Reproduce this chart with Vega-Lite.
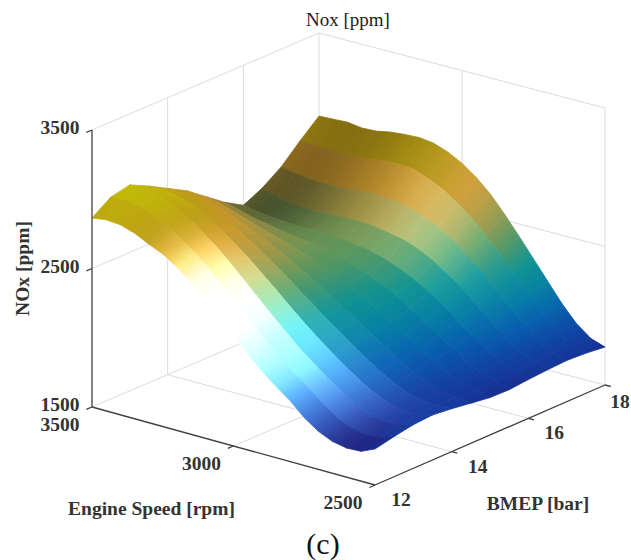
{"$schema":"https://vega.github.io/schema/vega-lite/v6.json","width":631,"height":560,"autosize":{"type":"none"},"padding":0,"background":"white","config":{"view":{"stroke":null},"text":{"font":"Liberation Serif"}},
"datasets":{
"surface":[
{"r":3500,"b":18,"n":2900},{"r":3500,"b":17.5,"n":2780},{"r":3500,"b":17,"n":2650},{"r":3500,"b":16.5,"n":2556},{"r":3500,"b":16,"n":2489},{"r":3500,"b":15.5,"n":2570},{"r":3500,"b":15,"n":2670},{"r":3500,"b":14.5,"n":2770},{"r":3500,"b":14,"n":2845},{"r":3500,"b":13.5,"n":2920},{"r":3500,"b":13,"n":2987},{"r":3500,"b":12.5,"n":2958},{"r":3500,"b":12,"n":2865},
{"r":3450,"b":18,"n":2905},{"r":3450,"b":17.5,"n":2775},{"r":3450,"b":17,"n":2630},{"r":3450,"b":16.5,"n":2520},{"r":3450,"b":16,"n":2470},{"r":3450,"b":15.5,"n":2545},{"r":3450,"b":15,"n":2650},{"r":3450,"b":14.5,"n":2755},{"r":3450,"b":14,"n":2840},{"r":3450,"b":13.5,"n":2925},{"r":3450,"b":13,"n":2985},{"r":3450,"b":12.5,"n":2965},{"r":3450,"b":12,"n":2880},
{"r":3400,"b":18,"n":2910},{"r":3400,"b":17.5,"n":2770},{"r":3400,"b":17,"n":2615},{"r":3400,"b":16.5,"n":2500},{"r":3400,"b":16,"n":2460},{"r":3400,"b":15.5,"n":2515},{"r":3400,"b":15,"n":2615},{"r":3400,"b":14.5,"n":2725},{"r":3400,"b":14,"n":2820},{"r":3400,"b":13.5,"n":2905},{"r":3400,"b":13,"n":2965},{"r":3400,"b":12.5,"n":2945},{"r":3400,"b":12,"n":2872},
{"r":3350,"b":18,"n":2895},{"r":3350,"b":17.5,"n":2765},{"r":3350,"b":17,"n":2610},{"r":3350,"b":16.5,"n":2490},{"r":3350,"b":16,"n":2450},{"r":3350,"b":15.5,"n":2495},{"r":3350,"b":15,"n":2580},{"r":3350,"b":14.5,"n":2685},{"r":3350,"b":14,"n":2785},{"r":3350,"b":13.5,"n":2870},{"r":3350,"b":13,"n":2925},{"r":3350,"b":12.5,"n":2910},{"r":3350,"b":12,"n":2840},
{"r":3300,"b":18,"n":2900},{"r":3300,"b":17.5,"n":2770},{"r":3300,"b":17,"n":2610},{"r":3300,"b":16.5,"n":2490},{"r":3300,"b":16,"n":2445},{"r":3300,"b":15.5,"n":2475},{"r":3300,"b":15,"n":2545},{"r":3300,"b":14.5,"n":2640},{"r":3300,"b":14,"n":2735},{"r":3300,"b":13.5,"n":2820},{"r":3300,"b":13,"n":2870},{"r":3300,"b":12.5,"n":2860},{"r":3300,"b":12,"n":2790},
{"r":3250,"b":18,"n":2920},{"r":3250,"b":17.5,"n":2785},{"r":3250,"b":17,"n":2620},{"r":3250,"b":16.5,"n":2495},{"r":3250,"b":16,"n":2445},{"r":3250,"b":15.5,"n":2460},{"r":3250,"b":15,"n":2515},{"r":3250,"b":14.5,"n":2595},{"r":3250,"b":14,"n":2680},{"r":3250,"b":13.5,"n":2755},{"r":3250,"b":13,"n":2800},{"r":3250,"b":12.5,"n":2790},{"r":3250,"b":12,"n":2745},
{"r":3200,"b":18,"n":2930},{"r":3200,"b":17.5,"n":2795},{"r":3200,"b":17,"n":2630},{"r":3200,"b":16.5,"n":2500},{"r":3200,"b":16,"n":2440},{"r":3200,"b":15.5,"n":2445},{"r":3200,"b":15,"n":2485},{"r":3200,"b":14.5,"n":2545},{"r":3200,"b":14,"n":2615},{"r":3200,"b":13.5,"n":2680},{"r":3200,"b":13,"n":2720},{"r":3200,"b":12.5,"n":2715},{"r":3200,"b":12,"n":2680},
{"r":3150,"b":18,"n":2935},{"r":3150,"b":17.5,"n":2800},{"r":3150,"b":17,"n":2635},{"r":3150,"b":16.5,"n":2500},{"r":3150,"b":16,"n":2435},{"r":3150,"b":15.5,"n":2425},{"r":3150,"b":15,"n":2445},{"r":3150,"b":14.5,"n":2490},{"r":3150,"b":14,"n":2545},{"r":3150,"b":13.5,"n":2600},{"r":3150,"b":13,"n":2630},{"r":3150,"b":12.5,"n":2625},{"r":3150,"b":12,"n":2595},
{"r":3100,"b":18,"n":2922},{"r":3100,"b":17.5,"n":2790},{"r":3100,"b":17,"n":2625},{"r":3100,"b":16.5,"n":2490},{"r":3100,"b":16,"n":2420},{"r":3100,"b":15.5,"n":2400},{"r":3100,"b":15,"n":2405},{"r":3100,"b":14.5,"n":2430},{"r":3100,"b":14,"n":2470},{"r":3100,"b":13.5,"n":2510},{"r":3100,"b":13,"n":2530},{"r":3100,"b":12.5,"n":2525},{"r":3100,"b":12,"n":2500},
{"r":3050,"b":18,"n":2885},{"r":3050,"b":17.5,"n":2750},{"r":3050,"b":17,"n":2600},{"r":3050,"b":16.5,"n":2470},{"r":3050,"b":16,"n":2400},{"r":3050,"b":15.5,"n":2365},{"r":3050,"b":15,"n":2355},{"r":3050,"b":14.5,"n":2365},{"r":3050,"b":14,"n":2390},{"r":3050,"b":13.5,"n":2420},{"r":3050,"b":13,"n":2430},{"r":3050,"b":12.5,"n":2425},{"r":3050,"b":12,"n":2400},
{"r":3000,"b":18,"n":2830},{"r":3000,"b":17.5,"n":2700},{"r":3000,"b":17,"n":2560},{"r":3000,"b":16.5,"n":2450},{"r":3000,"b":16,"n":2370},{"r":3000,"b":15.5,"n":2325},{"r":3000,"b":15,"n":2305},{"r":3000,"b":14.5,"n":2300},{"r":3000,"b":14,"n":2310},{"r":3000,"b":13.5,"n":2325},{"r":3000,"b":13,"n":2330},{"r":3000,"b":12.5,"n":2320},{"r":3000,"b":12,"n":2300},
{"r":2950,"b":18,"n":2755},{"r":2950,"b":17.5,"n":2630},{"r":2950,"b":17,"n":2510},{"r":2950,"b":16.5,"n":2410},{"r":2950,"b":16,"n":2330},{"r":2950,"b":15.5,"n":2280},{"r":2950,"b":15,"n":2250},{"r":2950,"b":14.5,"n":2235},{"r":2950,"b":14,"n":2230},{"r":2950,"b":13.5,"n":2235},{"r":2950,"b":13,"n":2235},{"r":2950,"b":12.5,"n":2220},{"r":2950,"b":12,"n":2195},
{"r":2900,"b":18,"n":2660},{"r":2900,"b":17.5,"n":2550},{"r":2900,"b":17,"n":2445},{"r":2900,"b":16.5,"n":2355},{"r":2900,"b":16,"n":2280},{"r":2900,"b":15.5,"n":2230},{"r":2900,"b":15,"n":2190},{"r":2900,"b":14.5,"n":2165},{"r":2900,"b":14,"n":2155},{"r":2900,"b":13.5,"n":2150},{"r":2900,"b":13,"n":2140},{"r":2900,"b":12.5,"n":2125},{"r":2900,"b":12,"n":2100},
{"r":2850,"b":18,"n":2540},{"r":2850,"b":17.5,"n":2450},{"r":2850,"b":17,"n":2365},{"r":2850,"b":16.5,"n":2285},{"r":2850,"b":16,"n":2220},{"r":2850,"b":15.5,"n":2165},{"r":2850,"b":15,"n":2125},{"r":2850,"b":14.5,"n":2095},{"r":2850,"b":14,"n":2080},{"r":2850,"b":13.5,"n":2070},{"r":2850,"b":13,"n":2060},{"r":2850,"b":12.5,"n":2040},{"r":2850,"b":12,"n":2015},
{"r":2800,"b":18,"n":2410},{"r":2800,"b":17.5,"n":2340},{"r":2800,"b":17,"n":2275},{"r":2800,"b":16.5,"n":2210},{"r":2800,"b":16,"n":2150},{"r":2800,"b":15.5,"n":2095},{"r":2800,"b":15,"n":2055},{"r":2800,"b":14.5,"n":2025},{"r":2800,"b":14,"n":2005},{"r":2800,"b":13.5,"n":1995},{"r":2800,"b":13,"n":1980},{"r":2800,"b":12.5,"n":1965},{"r":2800,"b":12,"n":1940},
{"r":2750,"b":18,"n":2275},{"r":2750,"b":17.5,"n":2225},{"r":2750,"b":17,"n":2175},{"r":2750,"b":16.5,"n":2120},{"r":2750,"b":16,"n":2070},{"r":2750,"b":15.5,"n":2025},{"r":2750,"b":15,"n":1990},{"r":2750,"b":14.5,"n":1960},{"r":2750,"b":14,"n":1940},{"r":2750,"b":13.5,"n":1925},{"r":2750,"b":13,"n":1905},{"r":2750,"b":12.5,"n":1880},{"r":2750,"b":12,"n":1845},
{"r":2700,"b":18,"n":2140},{"r":2700,"b":17.5,"n":2105},{"r":2700,"b":17,"n":2070},{"r":2700,"b":16.5,"n":2030},{"r":2700,"b":16,"n":1990},{"r":2700,"b":15.5,"n":1955},{"r":2700,"b":15,"n":1925},{"r":2700,"b":14.5,"n":1900},{"r":2700,"b":14,"n":1880},{"r":2700,"b":13.5,"n":1865},{"r":2700,"b":13,"n":1840},{"r":2700,"b":12.5,"n":1810},{"r":2700,"b":12,"n":1775},
{"r":2650,"b":18,"n":2005},{"r":2650,"b":17.5,"n":1990},{"r":2650,"b":17,"n":1970},{"r":2650,"b":16.5,"n":1945},{"r":2650,"b":16,"n":1915},{"r":2650,"b":15.5,"n":1885},{"r":2650,"b":15,"n":1865},{"r":2650,"b":14.5,"n":1850},{"r":2650,"b":14,"n":1835},{"r":2650,"b":13.5,"n":1820},{"r":2650,"b":13,"n":1795},{"r":2650,"b":12.5,"n":1765},{"r":2650,"b":12,"n":1730},
{"r":2600,"b":18,"n":1890},{"r":2600,"b":17.5,"n":1885},{"r":2600,"b":17,"n":1880},{"r":2600,"b":16.5,"n":1870},{"r":2600,"b":16,"n":1850},{"r":2600,"b":15.5,"n":1835},{"r":2600,"b":15,"n":1825},{"r":2600,"b":14.5,"n":1815},{"r":2600,"b":14,"n":1810},{"r":2600,"b":13.5,"n":1795},{"r":2600,"b":13,"n":1775},{"r":2600,"b":12.5,"n":1745},{"r":2600,"b":12,"n":1710},
{"r":2550,"b":18,"n":1810},{"r":2550,"b":17.5,"n":1820},{"r":2550,"b":17,"n":1825},{"r":2550,"b":16.5,"n":1820},{"r":2550,"b":16,"n":1810},{"r":2550,"b":15.5,"n":1800},{"r":2550,"b":15,"n":1800},{"r":2550,"b":14.5,"n":1805},{"r":2550,"b":14,"n":1810},{"r":2550,"b":13.5,"n":1805},{"r":2550,"b":13,"n":1785},{"r":2550,"b":12.5,"n":1755},{"r":2550,"b":12,"n":1715},
{"r":2500,"b":18,"n":1774},{"r":2500,"b":17.5,"n":1790},{"r":2500,"b":17,"n":1797},{"r":2500,"b":16.5,"n":1790},{"r":2500,"b":16,"n":1780},{"r":2500,"b":15.5,"n":1767},{"r":2500,"b":15,"n":1770},{"r":2500,"b":14.5,"n":1790},{"r":2500,"b":14,"n":1810},{"r":2500,"b":13.5,"n":1825},{"r":2500,"b":13,"n":1815},{"r":2500,"b":12.5,"n":1790},{"r":2500,"b":12,"n":1760}
],
"lines":[
{"k":"grid","g":"t1","r":3500,"b":12,"n":3500},{"k":"grid","g":"t1","r":3500,"b":18,"n":3500},
{"k":"grid","g":"t2","r":3500,"b":18,"n":3500},{"k":"grid","g":"t2","r":2500,"b":18,"n":3500},
{"k":"grid","g":"m1","r":3500,"b":12,"n":2500},{"k":"grid","g":"m1","r":3500,"b":18,"n":2500},
{"k":"grid","g":"m2","r":3500,"b":18,"n":2500},{"k":"grid","g":"m2","r":2500,"b":18,"n":2500},
{"k":"grid","g":"v1","r":3500,"b":14,"n":1500},{"k":"grid","g":"v1","r":3500,"b":14,"n":3500},
{"k":"grid","g":"v2","r":3500,"b":16,"n":1500},{"k":"grid","g":"v2","r":3500,"b":16,"n":3500},
{"k":"grid","g":"v3","r":3500,"b":18,"n":1500},{"k":"grid","g":"v3","r":3500,"b":18,"n":3500},
{"k":"grid","g":"v4","r":3000,"b":18,"n":1500},{"k":"grid","g":"v4","r":3000,"b":18,"n":3500},
{"k":"grid","g":"v5","r":2500,"b":18,"n":1500},{"k":"grid","g":"v5","r":2500,"b":18,"n":3500},
{"k":"grid","g":"f1","r":3500,"b":12,"n":1500},{"k":"grid","g":"f1","r":3500,"b":18,"n":1500},
{"k":"grid","g":"f2","r":3500,"b":18,"n":1500},{"k":"grid","g":"f2","r":2500,"b":18,"n":1500},
{"k":"grid","g":"f3","r":3500,"b":14,"n":1500},{"k":"grid","g":"f3","r":2500,"b":14,"n":1500},
{"k":"grid","g":"f4","r":3500,"b":16,"n":1500},{"k":"grid","g":"f4","r":2500,"b":16,"n":1500},
{"k":"grid","g":"f5","r":3000,"b":12,"n":1500},{"k":"grid","g":"f5","r":3000,"b":18,"n":1500},
{"k":"axis","g":"az","r":3500,"b":12,"n":1500},{"k":"axis","g":"az","r":3500,"b":12,"n":3500},
{"k":"axis","g":"ar","r":3500,"b":12,"n":1500},{"k":"axis","g":"ar","r":2500,"b":12,"n":1500},
{"k":"axis","g":"ab","r":2500,"b":12,"n":1500},{"k":"axis","g":"ab","r":2500,"b":18,"n":1500},
{"k":"axis","g":"z1","r":3500,"b":11.85,"n":1500},{"k":"axis","g":"z1","r":3500,"b":12,"n":1500},
{"k":"axis","g":"z2","r":3500,"b":11.85,"n":2500},{"k":"axis","g":"z2","r":3500,"b":12,"n":2500},
{"k":"axis","g":"z3","r":3500,"b":11.85,"n":3500},{"k":"axis","g":"z3","r":3500,"b":12,"n":3500},
{"k":"axis","g":"r1","r":3000,"b":11.85,"n":1500},{"k":"axis","g":"r1","r":3000,"b":12,"n":1500},
{"k":"axis","g":"r2","r":2500,"b":11.85,"n":1500},{"k":"axis","g":"r2","r":2500,"b":12,"n":1500},
{"k":"axis","g":"b1","r":2480,"b":14,"n":1500},{"k":"axis","g":"b1","r":2500,"b":14,"n":1500},
{"k":"axis","g":"b2","r":2480,"b":16,"n":1500},{"k":"axis","g":"b2","r":2500,"b":16,"n":1500},
{"k":"axis","g":"b3","r":2480,"b":18,"n":1500},{"k":"axis","g":"b3","r":2500,"b":18,"n":1500}
],
"labels":[
{"k":"z","t":"3500","r":3500,"b":12,"n":3500},{"k":"z","t":"2500","r":3500,"b":12,"n":2500},{"k":"z","t":"1500","r":3500,"b":12,"n":1500},
{"k":"rpm","t":"3500","r":3500,"b":12,"n":1500},{"k":"rpm","t":"3000","r":3000,"b":12,"n":1500},{"k":"rpm","t":"2500","r":2500,"b":12,"n":1500},
{"k":"bm","t":"12","r":2500,"b":12,"n":1500},{"k":"bm","t":"14","r":2500,"b":14,"n":1500},{"k":"bm","t":"16","r":2500,"b":16,"n":1500},{"k":"bm8","t":"18","r":2500,"b":18,"n":1500},
{"k":"tz","t":"NOx [ppm]","r":3500,"b":12,"n":2500},{"k":"ttl","t":"Nox [ppm]","r":3500,"b":18,"n":3500},
{"k":"tr","t":"Engine Speed [rpm]","r":3000,"b":12,"n":1500},{"k":"tb","t":"BMEP [bar]","r":2500,"b":15,"n":1500},{"k":"c","t":"(c)","r":2500,"b":12,"n":1500}
]},
"encoding":{
"x":{"field":"px","type":"quantitative","scale":{"domain":[0,631],"nice":false,"zero":false},"axis":null},
"y":{"field":"py","type":"quantitative","scale":{"domain":[0,560],"reverse":true,"nice":false,"zero":false},"axis":null}},
"layer":[
{"data":{"name":"lines"},"transform":[{"filter":"datum.k=='grid'"},
{"calculate":"(datum.r-2500)/1000","as":"u"},{"calculate":"(datum.b-12)/6","as":"v"},{"calculate":"(datum.n-1500)/2000","as":"w"},
{"calculate":"375-283*datum.u+230*datum.v-3*datum.u*datum.v","as":"px"},{"calculate":"485-78*datum.u-100*datum.v+3*datum.u*datum.v-277*datum.w","as":"py"}],
"mark":{"type":"line","color":"#dcdcdc","strokeWidth":1},"encoding":{"detail":{"field":"g"},"order":null}},
{"data":{"name":"surface"},"transform":[
{"calculate":"(datum.r-2500)/1000","as":"u"},{"calculate":"(datum.b-12)/6","as":"v"},{"calculate":"(datum.n-1500)/2000","as":"w"},
{"calculate":"375-283*datum.u+230*datum.v-3*datum.u*datum.v","as":"px"},{"calculate":"485-78*datum.u-100*datum.v+3*datum.u*datum.v-277*datum.w","as":"py"},
{"calculate":"round(datum.u*20)","as":"i"},{"calculate":"round(datum.v*12)","as":"j"},
{"calculate":"[0,1,2,3]","as":"corners"},{"flatten":["corners"],"as":["corner"]},
{"calculate":"datum.i-((datum.corner==1||datum.corner==2)?1:0)","as":"ci"},{"calculate":"datum.j-((datum.corner==2||datum.corner==3)?1:0)","as":"cj"},
{"filter":"datum.ci>=0&&datum.ci<20&&datum.cj>=0&&datum.cj<12"},
{"calculate":"datum.ci*100+datum.cj","as":"cell"},
{"calculate":"(datum.corner==0||datum.corner==3)","as":"lo"},
{"calculate":"datum.lo?datum.n:null","as":"n0"},{"calculate":"datum.lo?null:datum.n","as":"n1"},
{"calculate":"datum.lo?datum.px:null","as":"ax"},{"calculate":"datum.lo?datum.py:null","as":"ay"},
{"calculate":"datum.lo?null:datum.px","as":"bx"},{"calculate":"datum.lo?null:datum.py","as":"by"},
{"calculate":"datum.px*((datum.corner==2||datum.corner==3)?2:-2)","as":"ex"},{"calculate":"datum.py*((datum.corner==2||datum.corner==3)?2:-2)","as":"ey"},
{"joinaggregate":[{"op":"mean","field":"n0","as":"c0"},{"op":"mean","field":"n1","as":"c1"},{"op":"mean","field":"ax","as":"Ax"},{"op":"mean","field":"ay","as":"Ay"},{"op":"mean","field":"bx","as":"Bx"},{"op":"mean","field":"by","as":"By"},{"op":"mean","field":"ex","as":"Ex"},{"op":"mean","field":"ey","as":"Ey"},{"op":"min","field":"px","as":"x0"},{"op":"max","field":"px","as":"x1"},{"op":"min","field":"py","as":"y0"},{"op":"max","field":"py","as":"y1"}],"groupby":["cell"]},
{"calculate":"datum.ci/20","as":"u0"},{"calculate":"(datum.ci+1)/20","as":"u1"},{"calculate":"(datum.cj+0.5)/12","as":"cv"},
{"calculate":"1.0*exp(-pow(datum.u0-0.57,2)/(2*pow(datum.u0>0.57?0.09:0.2,2)))*exp(-pow(datum.cv-(0.02+0.35*max(0,0.57-datum.u0)),2)/(2*0.12*0.12))+0.2*exp(-pow(datum.u0-0.47,2)/(2*0.11*0.11))*exp(-pow(datum.cv-0.82,2)/(2*0.09*0.09))","as":"s0"},
{"calculate":"1.0*exp(-pow(datum.u1-0.57,2)/(2*pow(datum.u1>0.57?0.09:0.2,2)))*exp(-pow(datum.cv-(0.02+0.35*max(0,0.57-datum.u1)),2)/(2*0.12*0.12))+0.2*exp(-pow(datum.u1-0.47,2)/(2*0.11*0.11))*exp(-pow(datum.cv-0.82,2)/(2*0.09*0.09))","as":"s1"},
{"calculate":"1-0.42*exp(-pow(datum.u0-0.95,2)/(2*0.12*0.12))*exp(-pow(datum.cv-0.72,2)/(2*0.12*0.12))-0.25*exp(-pow(datum.u0-0.85,2)/(2*0.2*0.2))*exp(-pow(datum.cv-1,2)/(2*0.15*0.15))","as":"d0"},
{"calculate":"1-0.42*exp(-pow(datum.u1-0.95,2)/(2*0.12*0.12))*exp(-pow(datum.cv-0.72,2)/(2*0.12*0.12))-0.25*exp(-pow(datum.u1-0.85,2)/(2*0.2*0.2))*exp(-pow(datum.cv-1,2)/(2*0.15*0.15))","as":"d1"},
{"calculate":"clamp(floor((datum.c0-1650)/150),0,8)","as":"i0"},{"calculate":"clamp((datum.c0-1650-150*datum.i0)/150,0,1)","as":"f0"},
{"calculate":"clamp(floor((datum.c1-1650)/150),0,8)","as":"i1"},{"calculate":"clamp((datum.c1-1650-150*datum.i1)/150,0,1)","as":"f1"},
{"calculate":"[35,20,8,5,15,85,160,200,185,195]","as":"R"},{"calculate":"[10,55,90,125,145,150,150,150,155,190]","as":"G"},{"calculate":"[95,155,175,165,145,95,70,45,20,5]","as":"B"},
{"calculate":"'rgb('+round(min(255,(datum.R[datum.i0]*(1-datum.f0)+datum.R[datum.i0+1]*datum.f0)*datum.d0+255*datum.s0))+','+round(min(255,(datum.G[datum.i0]*(1-datum.f0)+datum.G[datum.i0+1]*datum.f0)*datum.d0+255*datum.s0))+','+round(min(255,(datum.B[datum.i0]*(1-datum.f0)+datum.B[datum.i0+1]*datum.f0)*datum.d0+255*datum.s0))+')'","as":"col0"},
{"calculate":"'rgb('+round(min(255,(datum.R[datum.i1]*(1-datum.f1)+datum.R[datum.i1+1]*datum.f1)*datum.d1+255*datum.s1))+','+round(min(255,(datum.G[datum.i1]*(1-datum.f1)+datum.G[datum.i1+1]*datum.f1)*datum.d1+255*datum.s1))+','+round(min(255,(datum.B[datum.i1]*(1-datum.f1)+datum.B[datum.i1+1]*datum.f1)*datum.d1+255*datum.s1))+')'","as":"col1"},
{"calculate":"max(1,datum.x1-datum.x0)","as":"W"},{"calculate":"max(1,datum.y1-datum.y0)","as":"H"},
{"calculate":"-datum.Ey/datum.H","as":"pX"},{"calculate":"datum.Ex/datum.W","as":"pY"},
{"calculate":"((datum.Bx-datum.Ax)/datum.W*datum.pX+(datum.By-datum.Ay)/datum.H*datum.pY)/(datum.pX*datum.pX+datum.pY*datum.pY)","as":"kk"},
{"calculate":"{gradient:'linear',x1:(datum.Ax-datum.x0)/datum.W,y1:(datum.Ay-datum.y0)/datum.H,x2:(datum.Ax-datum.x0)/datum.W+datum.kk*datum.pX,y2:(datum.Ay-datum.y0)/datum.H+datum.kk*datum.pY,stops:[{offset:0,color:datum.col0},{offset:1,color:datum.col1}]}","as":"grad"}],
"mark":{"type":"line","interpolate":"linear-closed","filled":true,"strokeWidth":0.8},
"encoding":{"detail":{"field":"cell"},"order":{"field":"corner","type":"quantitative"},"fill":{"field":"grad","type":"nominal","scale":null,"legend":null},"stroke":{"field":"grad","type":"nominal","scale":null,"legend":null}}},
{"data":{"name":"lines"},"transform":[{"filter":"datum.k=='axis'"},
{"calculate":"(datum.r-2500)/1000","as":"u"},{"calculate":"(datum.b-12)/6","as":"v"},{"calculate":"(datum.n-1500)/2000","as":"w"},
{"calculate":"375-283*datum.u+230*datum.v-3*datum.u*datum.v","as":"px"},{"calculate":"485-78*datum.u-100*datum.v+3*datum.u*datum.v-277*datum.w","as":"py"}],
"mark":{"type":"line","color":"#404040","strokeWidth":1.3},"encoding":{"detail":{"field":"g"},"order":null}},
{"data":{"name":"labels"},"transform":[
{"calculate":"(datum.r-2500)/1000","as":"u"},{"calculate":"(datum.b-12)/6","as":"v"},{"calculate":"(datum.n-1500)/2000","as":"w"},
{"calculate":"375-283*datum.u+230*datum.v-3*datum.u*datum.v","as":"px"},{"calculate":"485-78*datum.u-100*datum.v+3*datum.u*datum.v-277*datum.w","as":"py"}],
"encoding":{"text":{"field":"t"}},
"layer":[
{"transform":[{"filter":"datum.k=='z'"}],"mark":{"type":"text","fontWeight":"bold","fontSize":19.5,"dx":-32,"dy":-2,"color":"#333333"}},
{"transform":[{"filter":"datum.k=='rpm'"}],"mark":{"type":"text","fontWeight":"bold","fontSize":19.5,"dx":-32,"dy":18,"color":"#333333"}},
{"transform":[{"filter":"datum.k=='bm'"}],"mark":{"type":"text","fontWeight":"bold","fontSize":19.5,"dx":26,"dy":15,"color":"#333333"}},
{"transform":[{"filter":"datum.k=='bm8'"}],"mark":{"type":"text","fontWeight":"bold","fontSize":19.5,"dx":15,"dy":17,"color":"#333333"}},
{"transform":[{"filter":"datum.k=='tz'"}],"mark":{"type":"text","fontWeight":"bold","fontSize":19.5,"dx":0,"dy":-69,"angle":270,"color":"#333333"}},
{"transform":[{"filter":"datum.k=='ttl'"}],"mark":{"type":"text","fontSize":19,"dx":29,"dy":-13,"color":"#222222"}},
{"transform":[{"filter":"datum.k=='tr'"}],"mark":{"type":"text","fontWeight":"bold","fontSize":19.5,"dx":-82,"dy":63,"color":"#333333"}},
{"transform":[{"filter":"datum.k=='tb'"}],"mark":{"type":"text","fontWeight":"bold","fontSize":19.5,"dx":48,"dy":69,"color":"#333333"}},
{"transform":[{"filter":"datum.k=='c'"}],"mark":{"type":"text","fontSize":30,"dx":-52,"dy":60,"color":"#111111"}}
]}
]}
